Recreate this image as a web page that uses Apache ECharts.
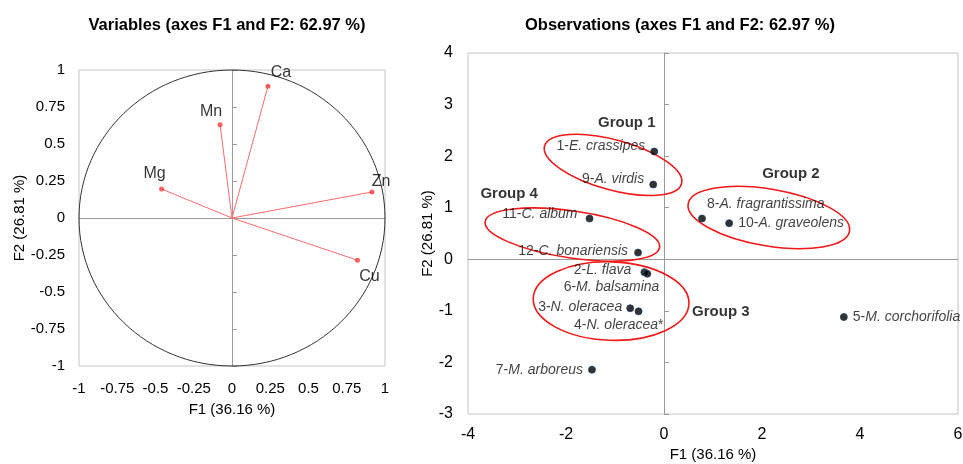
<!DOCTYPE html>
<html><head><meta charset="utf-8">
<script src="https://cdn.jsdelivr.net/npm/echarts@6/dist/echarts.min.js"></script>
<style>html,body{margin:0;padding:0;background:#fff}#c{width:963px;height:464px}</style>
</head><body><div id="c"></div>
<script>
const FONT = '"Liberation Sans", Arial, Helvetica, sans-serif';

// ---- Variables (correlation circle) ----
const varNames = ['Ca', 'Mn', 'Mg', 'Zn', 'Cu'];
const varF1 = [0.235, -0.078, -0.46, 0.915, 0.82];
const varF2 = [0.89, 0.63, 0.196, 0.176, -0.285];
const varAxisMin = -1, varAxisMax = 1, varAxisStep = 0.25;

// ---- Observations ----
const obsNum = ['1-', '9-', '11-', '12-', '2-', '6-', '3-', '4-', '7-', '8-', '10-', '5-'];
const obsName = ['E. crassipes', 'A. virdis', 'C. album', 'C. bonariensis', 'L. flava', 'M. balsamina',
  'N. oleracea', 'N. oleracea', 'M. arboreus', 'A. fragrantissima', 'A. graveolens', 'M. corchorifolia'];
const obsSuffix = ['', '', '', '', '', '', '', '*', '', '', '', ''];
const obsF1 = [-0.20, -0.22, -1.52, -0.53, -0.40, -0.34, -0.69, -0.52, -1.47, 0.776, 1.33, 3.67];
const obsF2 = [2.09, 1.45, 0.79, 0.13, -0.25, -0.28, -0.95, -1.01, -2.14, 0.79, 0.70, -1.12];
const obsXMin = -4, obsXMax = 6, obsXStep = 2;
const obsYMin = -3, obsYMax = 4, obsYStep = 1;

// ---- Groups ----
const groupNames = ['Group 1', 'Group 2', 'Group 3', 'Group 4'];
const groupLabelF1 = [-0.76, 2.59, 1.16, -3.16];
const groupLabelF2 = [2.65, 1.66, -1.02, 1.26];
const groupCenterF1 = [-1.04, 2.14, -1.08, -1.87];
const groupCenterF2 = [1.83, 0.81, -0.81, 0.48];
const groupSemiMajor = [1.45, 1.67, 1.59, 1.80];   // in F1 units
const groupSemiMinor = [0.51, 0.58, 0.80, 0.48];   // in F1 units
const groupTilt = [15.4, 9.6, 2, 8.4];             // degrees, clockwise on screen

// ---- label placement (style only) ----
const varLabelOffset = [[13, -14], [-9, -13], [-7, -15], [9, -10], [12, 16]];
const obsLabelSide = ['left', 'left', 'left', 'left', 'left', 'left', 'left', 'left', 'left', 'right', 'right', 'right'];
const obsLabelOffset = [[0, -5], [0, -5], [-3, -4], [-1, -1], [-4, -2], [21, 13], [1, -1], [34, 14], [0, 0], [-4, -14], [0, 0], [0, 0]];

const chart = echarts.init(document.getElementById('c'), null, {renderer: 'canvas'});

const txt = {color: '#000', fontFamily: FONT};
function mainAxis(gridIndex, min, max, step, pos, fs, margin, name, gap) {
  return {
    gridIndex, type: 'value', min, max, interval: step, position: pos,
    axisLine: {show: false, onZero: false}, axisTick: {show: false}, splitLine: {show: false},
    axisLabel: Object.assign({fontSize: fs, margin}, txt),
    name, nameLocation: 'middle', nameGap: gap, nameMoveOverlap: false,
    nameTextStyle: Object.assign({fontSize: 15}, txt)
  };
}
function zeroAxis(gridIndex, min, max, step, pos, ticks) {
  return {
    gridIndex, type: 'value', min, max, interval: step, position: pos,
    axisLine: {show: true, onZero: true, lineStyle: {color: '#9a9a9a', width: 1}},
    axisTick: {show: ticks, length: 5, lineStyle: {color: '#9a9a9a'}},
    axisLabel: {show: false}, splitLine: {show: false}
  };
}

const option = {
  animation: false,
  backgroundColor: '#fff',
  graphic: [
    {type: 'text', x: 227, y: 25, style: {text: 'Variables (axes F1 and F2: 62.97 %)', fill: '#000',
      font: 'bold 16.5px ' + FONT, textAlign: 'center', textVerticalAlign: 'middle'}},
    {type: 'text', x: 680, y: 25, style: {text: 'Observations (axes F1 and F2: 62.97 %)', fill: '#000',
      font: 'bold 16.5px ' + FONT, textAlign: 'center', textVerticalAlign: 'middle'}}
  ],
  grid: [
    {left: 79, top: 70, width: 306, height: 296, show: true, borderColor: '#c4c4c4', borderWidth: 1,
      containLabel: false, outerBoundsMode: 'none'},
    {left: 468, top: 53, width: 490, height: 361, show: true, borderColor: '#c4c4c4', borderWidth: 1,
      containLabel: false, outerBoundsMode: 'none'}
  ],
  xAxis: [
    mainAxis(0, varAxisMin, varAxisMax, varAxisStep, 'bottom', 15, 15, 'F1 (36.16 %)', 36),
    zeroAxis(0, varAxisMin, varAxisMax, varAxisStep, 'top', false),
    mainAxis(1, obsXMin, obsXMax, obsXStep, 'bottom', 16, 13, 'F1 (36.16 %)', 33),
    zeroAxis(1, obsXMin, obsXMax, obsXStep, 'top', false)
  ],
  yAxis: [
    mainAxis(0, varAxisMin, varAxisMax, varAxisStep, 'left', 15, 14, 'F2 (26.81 %)', 52),
    zeroAxis(0, varAxisMin, varAxisMax, varAxisStep, 'right', true),
    mainAxis(1, obsYMin, obsYMax, obsYStep, 'left', 16, 15, 'F2 (26.81 %)', 33),
    zeroAxis(1, obsYMin, obsYMax, obsYStep, 'right', true)
  ],
  series: [
    // unit circle
    {
      type: 'custom', xAxisIndex: 0, yAxisIndex: 0, silent: true, clip: false,
      data: [[0, 0]],
      renderItem: function (params, api) {
        const c = api.coord([0, 0]);
        const s = api.size([1, 1]);
        return {type: 'ellipse', shape: {cx: c[0], cy: c[1], rx: s[0], ry: s[1]},
          style: {fill: 'none', stroke: '#333', lineWidth: 1}};
      }
    },
    // vectors
    {
      type: 'custom', xAxisIndex: 0, yAxisIndex: 0, silent: true,
      data: varF1.map((v, i) => [v, varF2[i]]),
      renderItem: function (params, api) {
        const o = api.coord([0, 0]);
        const p = api.coord([api.value(0), api.value(1)]);
        return {type: 'line', shape: {x1: o[0], y1: o[1], x2: p[0], y2: p[1]},
          style: {stroke: '#ff6b6b', lineWidth: 1}};
      }
    },
    // variable points + labels
    {
      type: 'scatter', xAxisIndex: 0, yAxisIndex: 0, symbolSize: 5,
      itemStyle: {color: '#ff3b3b'},
      data: varF1.map((v, i) => ({
        value: [v, varF2[i]], name: varNames[i],
        label: {show: true, position: 'inside', offset: varLabelOffset[i], formatter: varNames[i],
          fontSize: 16, color: '#000', textBorderWidth: 0, fontFamily: FONT}
      }))
    },
    // observation points + labels
    {
      type: 'scatter', xAxisIndex: 2, yAxisIndex: 2, symbolSize: 7,
      itemStyle: {color: '#000', borderColor: '#1d3d5e', borderWidth: 1},
      data: obsF1.map((v, i) => ({
        value: [v, obsF2[i]],
        label: {show: true, position: obsLabelSide[i], distance: 5, offset: obsLabelOffset[i],
          formatter: '{n|' + obsNum[i] + '}{i|' + obsName[i] + '}' + (obsSuffix[i] ? '{n|' + obsSuffix[i] + '}' : ''),
          rich: {
            n: {fontSize: 14, color: '#111', fontFamily: FONT},
            i: {fontSize: 14, color: '#111', fontFamily: FONT, fontStyle: 'italic'}
          }}
      }))
    },
    // group ellipses
    {
      type: 'custom', xAxisIndex: 2, yAxisIndex: 2, silent: true, clip: false,
      data: groupCenterF1.map((v, i) => [v, groupCenterF2[i], groupSemiMajor[i], groupSemiMinor[i], groupTilt[i]]),
      renderItem: function (params, api) {
        const c = api.coord([api.value(0), api.value(1)]);
        const rx = api.size([api.value(2), 0])[0];
        const ry = api.size([api.value(3), 0])[0];
        return {type: 'ellipse', x: c[0], y: c[1], rotation: -api.value(4) * Math.PI / 180,
          shape: {cx: 0, cy: 0, rx: rx, ry: ry},
          style: {fill: 'none', stroke: '#f01818', lineWidth: 1.6}};
      }
    },
    // group labels
    {
      type: 'scatter', xAxisIndex: 2, yAxisIndex: 2, symbolSize: 0, silent: true,
      data: groupLabelF1.map((v, i) => ({value: [v, groupLabelF2[i]], name: groupNames[i]})),
      label: {show: true, position: 'inside', formatter: '{b}', fontSize: 15, fontWeight: 'bold',
        color: '#000', textBorderWidth: 0, fontFamily: FONT}
    }
  ]
};
chart.setOption(option);
</script>
</body></html>
